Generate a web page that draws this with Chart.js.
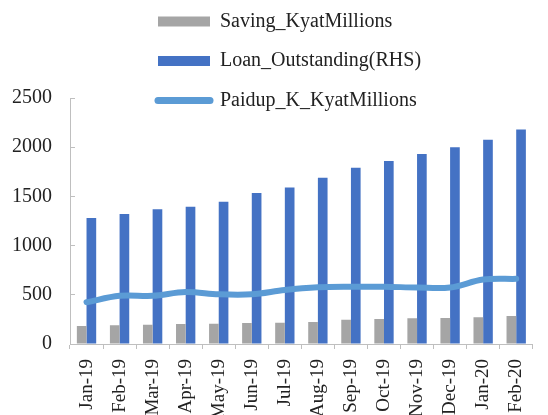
<!DOCTYPE html>
<html>
<head>
<meta charset="utf-8">
<script src="https://cdn.jsdelivr.net/npm/chart.js@4/dist/chart.umd.min.js"></script>
<style>
    html, body { margin: 0; padding: 0; background: #fff; overflow: hidden; width: 548px; height: 415px; }
    #wrap { position: relative; width: 549px; height: 415px; }
</style>
</head>
<body>
<div id="wrap"><canvas id="mfi-graph"></canvas></div>
<script>
const ctx = document.getElementById('mfi-graph');

const months = ['Jan-19', 'Feb-19', 'Mar-19', 'Apr-19', 'May-19', 'Jun-19', 'Jul-19',
    'Aug-19', 'Sep-19', 'Oct-19', 'Nov-19', 'Dec-19', 'Jan-20', 'Feb-20'];

const saving = [183, 190, 196, 203, 206, 213, 216, 224, 247, 254, 261, 265, 272, 285];
const loan = [1280, 1320, 1370, 1395, 1445, 1535, 1590, 1690, 1790, 1860, 1930, 2000, 2075, 2180];
const paidup = [424, 490, 490, 528, 505, 505, 549, 576, 582, 582, 574, 574, 655, 662];

const yMin = 0;
const yMax = 2500;
const yStep = 500;

const textColor = '#222222';
const axisColor = '#BFBFBF';
const serif = 'Liberation Serif, Times New Roman, serif';

const savingSet = {
    label: 'Saving_KyatMillions',
    data: saving,
    backgroundColor: '#A5A5A5',
    order: 1,
};

const loanSet = {
    label: 'Loan_Outstanding(RHS)',
    data: loan,
    backgroundColor: '#4472C4',
    order: 1,
};

const paidupSet = {
    type: 'line',
    label: 'Paidup_K_KyatMillions',
    data: paidup,
    borderColor: '#5B9BD5',
    backgroundColor: '#5B9BD5',
    borderWidth: 6,
    borderCapStyle: 'round',
    borderJoinStyle: 'round',
    pointRadius: 0,
    tension: 0.35,
    order: 0, // drawn over the bars
};

// legend rows start at the same x, right of the y axis; its last row
// sits beside the top of the plot so the clip box is made taller
const legendShift = {
    id: 'legendShift',
    afterLayout(chart) {
        const lg = chart.legend;
        lg.left = 138.5;
        lg.bottom = lg.top + 135;
    }
};

const config = {
    type: 'bar',
    data: {
        labels: months,
        datasets: [savingSet, loanSet, paidupSet],
    },
    options: {
        responsive: true,
        maintainAspectRatio: false,
        animation: false,
        layout: { padding: { top: -8, left: 0, right: 0, bottom: 0 } },
        datasets: {
            bar: { categoryPercentage: 0.585, barPercentage: 1 }
        },
        scales: {
            x: {
                grid: { display: true, drawOnChartArea: false, tickLength: 5, color: axisColor, offset: true },
                border: { display: true, color: axisColor, width: 1 },
                ticks: {
                    color: textColor,
                    font: { family: serif, size: 19 },
                    minRotation: 90,
                    maxRotation: 90,
                    autoSkip: false,
                    padding: 10,
                },
                afterFit(scale) { scale.height = 71; },
            },
            y: {
                min: yMin,
                max: yMax,
                grid: { display: true, drawOnChartArea: false, tickLength: -5, color: axisColor },
                border: { display: true, color: axisColor, width: 1 },
                ticks: {
                    stepSize: yStep,
                    color: textColor,
                    font: { family: serif, size: 20 },
                    padding: 23,
                    callback: (value) => String(value),
                },
                afterFit(scale) { scale.width = 70; },
            }
        },
        plugins: {
            tooltip: { enabled: false },
            legend: {
                display: true,
                position: 'top',
                align: 'start',
                maxHeight: 106,
                labels: {
                    color: textColor,
                    font: { family: serif, size: 20 },
                    usePointStyle: true,
                    pointStyleWidth: 52,
                    boxHeight: 10,
                    padding: 19.5,
                    sort: (a, b) => a.datasetIndex - b.datasetIndex,
                    generateLabels(chart) {
                        const items = Chart.defaults.plugins.legend.labels.generateLabels(chart);
                        items.forEach(item => {
                            const ds = chart.data.datasets[item.datasetIndex];
                            if (ds.type === 'line') {
                                item.pointStyle = 'line';
                                item.strokeStyle = ds.borderColor;
                                item.lineWidth = 7;
                                item.lineCap = 'round';
                            } else {
                                item.pointStyle = 'rect';
                                item.fillStyle = ds.backgroundColor;
                                item.lineWidth = 0;
                            }
                        });
                        return items;
                    }
                }
            }
        }
    },
    plugins: [legendShift],
};

new Chart(ctx, config);
</script>
</body>
</html>
